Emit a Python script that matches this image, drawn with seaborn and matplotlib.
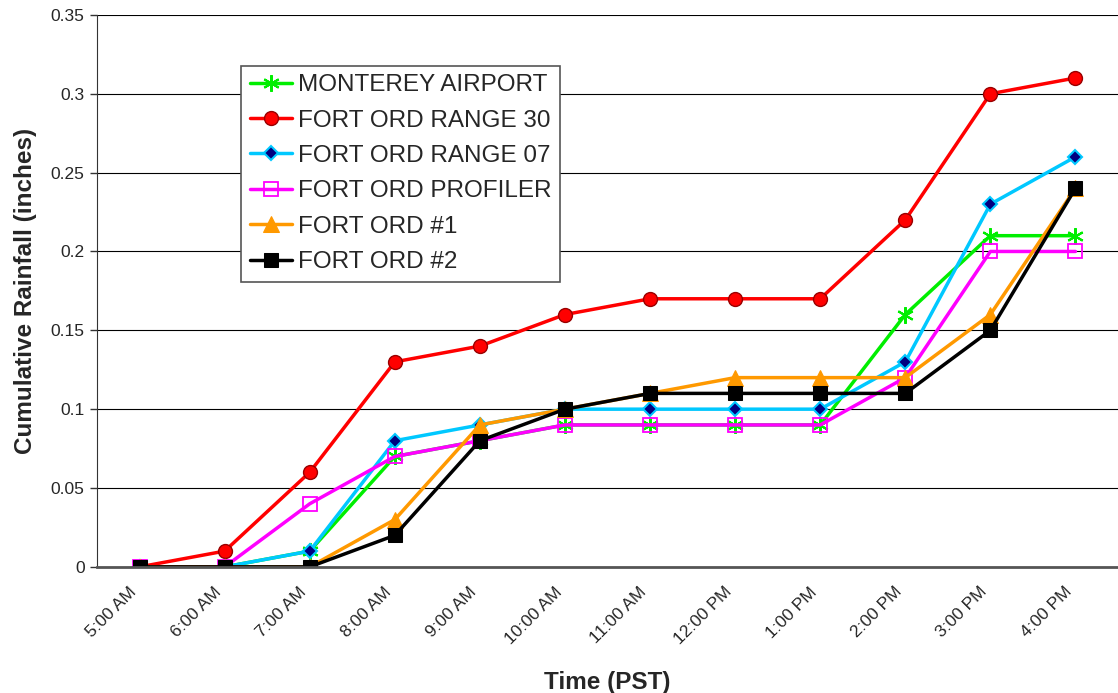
import matplotlib

matplotlib.use("Agg")

import matplotlib.pyplot as plt
import matplotlib.transforms as mtransforms
import numpy as np
import pandas as pd
import seaborn as sns

times = ["5:00 AM", "6:00 AM", "7:00 AM", "8:00 AM", "9:00 AM", "10:00 AM",
         "11:00 AM", "12:00 PM", "1:00 PM", "2:00 PM", "3:00 PM", "4:00 PM"]

monterey_airport = [0, 0, 0.01, 0.07, 0.08, 0.09, 0.09, 0.09, 0.09, 0.16, 0.21, 0.21]
range_30 = [0, 0.01, 0.06, 0.13, 0.14, 0.16, 0.17, 0.17, 0.17, 0.22, 0.30, 0.31]
range_07 = [0, 0, 0.01, 0.08, 0.09, 0.10, 0.10, 0.10, 0.10, 0.13, 0.23, 0.26]
profiler = [0, 0, 0.04, 0.07, 0.08, 0.09, 0.09, 0.09, 0.09, 0.12, 0.20, 0.20]
fort_ord_1 = [0, 0, 0, 0.03, 0.09, 0.10, 0.11, 0.12, 0.12, 0.12, 0.16, 0.24]
fort_ord_2 = [0, 0, 0, 0.02, 0.08, 0.10, 0.11, 0.11, 0.11, 0.11, 0.15, 0.24]

series = [
    ("MONTEREY AIRPORT", monterey_airport,
     dict(color="#00ee00", marker=(6, 2, 0), markersize=12, markeredgecolor="#00ee00", markeredgewidth=1.5)),
    ("FORT ORD RANGE 30", range_30,
     dict(color="#ff0000", marker="o", markersize=10, markerfacecolor="#ff0000", markeredgecolor="#990000", markeredgewidth=1)),
    ("FORT ORD RANGE 07", range_07,
     dict(color="#00c8ff", marker="D", markersize=7.5, markerfacecolor="#000080", markeredgecolor="#00c8ff", markeredgewidth=1.5)),
    ("FORT ORD PROFILER", profiler,
     dict(color="#ff00ff", marker="s", markersize=9.5, markerfacecolor="none", markeredgecolor="#ff00ff", markeredgewidth=1.3)),
    ("FORT ORD #1", fort_ord_1,
     dict(color="#ff9900", marker="^", markersize=12, markerfacecolor="#ff9900", markeredgecolor="#ff9900")),
    ("FORT ORD #2", fort_ord_2,
     dict(color="#000000", marker="s", markersize=10.5, markerfacecolor="#000000", markeredgecolor="#000000")),
]

sns.set_style("white")
plt.rcParams["font.family"] = ["Liberation Sans", "DejaVu Sans"]

fig = plt.figure(figsize=(11.18, 6.93), dpi=100)
ax = fig.add_axes([0.0868, 0.182, 0.9132, 0.7965])

for name, values, style in series:
    df = pd.DataFrame({"time": times, "rain": values})
    sns.lineplot(data=df, x="time", y="rain", ax=ax, label=name,
                 linewidth=2.5, sort=False, **style)

ax.set_xlim(-0.5, len(times) - 0.5)
ax.set_ylim(0, 0.35)
ax.set_yticks(np.arange(0, 0.351, 0.05))
ax.set_yticklabels(["0", "0.05", "0.1", "0.15", "0.2", "0.25", "0.3", "0.35"], fontsize=12.5)
ax.yaxis.grid(True, color="#000000", linewidth=0.8)
ax.set_axisbelow(True)

ax.set_xticks(range(len(times)))
ax.set_xticklabels(times, rotation=45, ha="right", rotation_mode="anchor", fontsize=12.5)
ax.tick_params(axis="x", which="major", length=0, pad=14)
shift = mtransforms.ScaledTranslation(-11 / 100, 2 / 100, fig.dpi_scale_trans)
for lbl in ax.get_xticklabels():
    lbl.set_transform(lbl.get_transform() + shift)
ax.set_xticks(np.arange(-0.5, len(times), 1), minor=True)
ax.tick_params(axis="x", which="minor", length=5, width=1, color="#333333", direction="out")
ax.tick_params(axis="y", which="major", length=5, width=1, color="#333333", direction="out", left=True, pad=4)

for side in ["top", "right"]:
    ax.spines[side].set_visible(False)
ax.spines["left"].set_color("#333333")
ax.spines["bottom"].set_color("#555555")
ax.spines["bottom"].set_linewidth(2)

ax.set_xlabel("Time (PST)", fontsize=17.5, fontweight="bold", labelpad=17)
ax.set_ylabel("Cumulative Rainfall (inches)", fontsize=17.5, fontweight="bold", labelpad=10)

leg = ax.legend(loc="upper left", bbox_to_anchor=(0.141, 0.908), fontsize=17.5,
                frameon=True, fancybox=False, edgecolor="#555555", framealpha=1,
                handlelength=1.75, handletextpad=0.25, labelspacing=0.55,
                borderpad=0.35, borderaxespad=0)
leg.get_frame().set_linewidth(1.2)

fig.savefig("out.png", dpi=100)
plt.close(fig)
